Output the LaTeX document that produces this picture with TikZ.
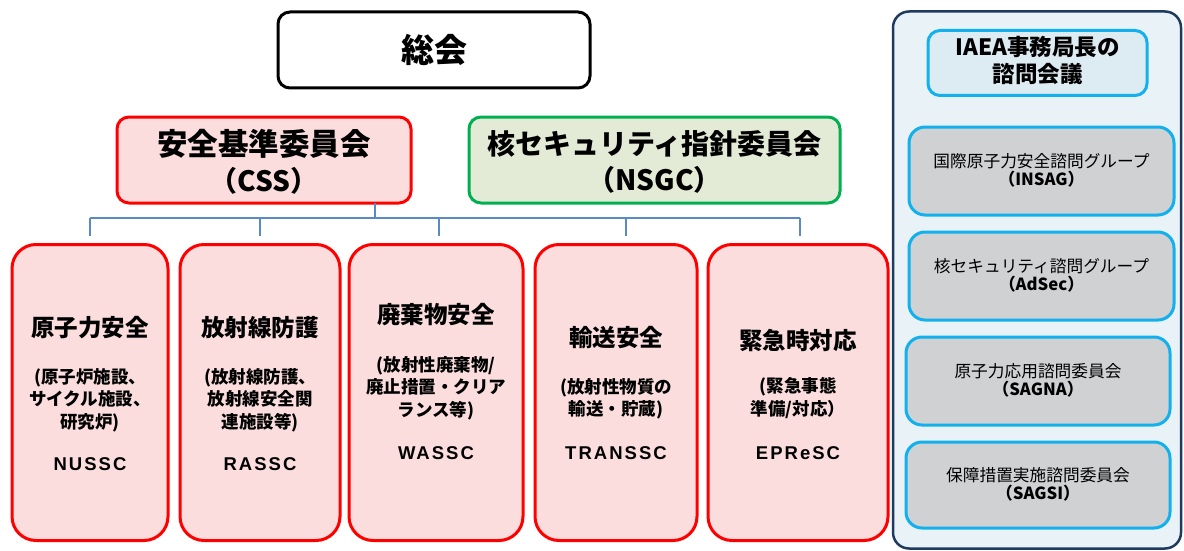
\documentclass[tikz,border=0pt]{standalone}
\usepackage{fontspec}
\setmainfont{Noto Sans CJK JP}
\newfontfamily\latinb{Liberation Sans}[LetterSpace=11]
\definecolor{redline}{HTML}{FF0000}
\definecolor{pinkfill}{HTML}{FBDDDD}
\definecolor{greenline}{HTML}{00B050}
\definecolor{greenfill}{HTML}{E3EBD7}
\definecolor{busblue}{HTML}{5A8AC6}
\definecolor{navy}{HTML}{1F3A5F}
\definecolor{panelfill}{HTML}{E9F2F7}
\definecolor{cyanline}{HTML}{12B0EC}
\definecolor{headfill}{HTML}{DDEBF2}
\definecolor{grayfill}{HTML}{CFD1D3}
\begin{document}
\begin{tikzpicture}[x=1pt,y=-1pt,
  every node/.style={inner sep=0pt, outer sep=0pt},
  topbox/.style={draw=black, fill=white, line width=3pt, rounded corners=12pt},
  cssbox/.style={draw=redline, fill=pinkfill, line width=3pt, rounded corners=12pt},
  nsgcbox/.style={draw=greenline, fill=greenfill, line width=3pt, rounded corners=12pt},
  subbox/.style={draw=redline, fill=pinkfill, line width=3pt, rounded corners=24pt, minimum height=296pt},
  panel/.style={draw=navy, fill=panelfill, line width=2.5pt, rounded corners=16pt},
  headbox/.style={draw=cyanline, fill=headfill, line width=3pt, rounded corners=12pt},
  advbox/.style={draw=cyanline, fill=grayfill, line width=3pt, rounded corners=16pt},
  bus/.style={draw=busblue, line width=1.5pt},
  ttl/.style={font=\fontsize{23.5}{27}\selectfont\bfseries, align=center},
  sub/.style={font=\fontsize{17.5}{22.5}\selectfont\bfseries, align=center},
  code/.style={font=\latinb\fontsize{18.5}{22}\selectfont\bfseries},
]
\useasboundingbox (0,0) rectangle (1184,551);

% top
\node[topbox, minimum width=312pt, minimum height=76pt] (gc) at (434,50)
  {\fontsize{33}{36}\selectfont\bfseries 総会};

\node[cssbox, minimum width=294pt, minimum height=86pt] (css) at (264,160) {};
\node[font=\fontsize{30.5}{36}\selectfont\bfseries, align=center] (csst) at (264,162)
  {安全基準委員会\\\fontsize{28}{36}\selectfont（CSS）};
\node[nsgcbox, minimum width=371pt, minimum height=86pt] (nsgc) at (654.5,160) {};
\node[font=\fontsize{28}{36}\selectfont\bfseries, align=center] (nsgct) at (654.5,162)
  {核セキュリティ指針委員会\\（NSGC）};

% committee boxes
\node[subbox, minimum width=156pt] (n1) at (90,392.5) {};
\node[subbox, minimum width=160pt] (n2) at (260,392.5) {};
\node[subbox, minimum width=174pt] (n3) at (436,392.5) {};
\node[subbox, minimum width=162pt] (n4) at (616,392.5) {};
\node[subbox, minimum width=180pt] (n5) at (798,392.5) {};

% bus
\coordinate (busc) at (375,218);
\draw[bus] (css.south -| busc) -- (busc);
\draw[bus] (busc -| n1) -- ([xshift=2pt]busc -| n5);
\draw[bus] (busc -| n1) -- ([yshift=9pt]n1.north);
\draw[bus] (busc -| n2) -- ([yshift=9pt]n2.north);
\draw[bus] ([xshift=3pt]busc -| n3) -- ([shift={(3pt,9pt)}]n3.north);
\draw[bus] ([xshift=10pt]busc -| n4) -- ([shift={(10pt,9pt)}]n4.north);
\draw[bus] ([xshift=2pt]busc -| n5) -- ([shift={(2pt,9pt)}]n5.north);

% texts
\node[ttl] (t1) at (90,328) {原子力安全};
\node[sub] (s1) at (90,400) {(原子炉施設、\\サイクル施設、\\研究炉)};
\node[code] (c1) at (90,464) {NUSSC};

\node[ttl] (t2) at (260,328) {放射線防護};
\node[sub] (s2) at (260,400) {(放射線防護、\\放射線安全関\\連施設等)};
\node[code] (c2) at (260,464) {RASSC};

\node[ttl] (t3) at (436,315) {廃棄物安全};
\node[sub] (s3) at (436,388) {(放射性廃棄物/\\廃止措置・クリア\\ランス等)};
\node[code] (c3) at (436,453) {WASSC};

\node[ttl] (t4) at (616,338) {輸送安全};
\node[sub] (s4) at (616,399) {(放射性物質の\\輸送・貯蔵)};
\node[code] (c4) at (616,453) {TRANSSC};

\node[ttl] (t5) at (798,340) {緊急時対応};
\node[sub] (s5) at (798,398) {(緊急事態\\準備/対応）};
\node[code] (c5) at (798,453) {EPReSC};

% right panel
\node[panel, minimum width=288pt, minimum height=537pt] (pn) at (1037,280) {};
\node[headbox, minimum width=219pt, minimum height=65pt] (hd) at (1037.5,63)
  {\fontsize{22.5}{28}\selectfont\bfseries\begin{tabular}{@{}c@{}}IAEA事務局長の\\[-1pt]諮問会議\end{tabular}};
\node[advbox, minimum width=265pt, minimum height=88pt] (a1) at (1041.5,171)
  {\begin{tabular}{@{}c@{}}\fontsize{16.7}{23}\selectfont 国際原子力安全諮問グループ\\\fontsize{16.7}{23}\selectfont\bfseries（INSAG）\end{tabular}};
\node[advbox, minimum width=265pt, minimum height=88pt] (a2) at (1041.5,276)
  {\begin{tabular}{@{}c@{}}\fontsize{16.7}{23}\selectfont 核セキュリティ諮問グループ\\\fontsize{16.7}{23}\selectfont\bfseries（AdSec）\end{tabular}};
\node[advbox, minimum width=264pt, minimum height=88pt] (a3) at (1038,381)
  {\begin{tabular}{@{}c@{}}\fontsize{16.7}{23}\selectfont 原子力応用諮問委員会\\\fontsize{16.7}{23}\selectfont\bfseries（SAGNA）\end{tabular}};
\node[advbox, minimum width=264pt, minimum height=86pt] (a4) at (1038,485)
  {\begin{tabular}{@{}c@{}}\fontsize{16.7}{23}\selectfont 保障措置実施諮問委員会\\\fontsize{16.7}{23}\selectfont\bfseries（SAGSI）\end{tabular}};
\end{tikzpicture}
\end{document}
